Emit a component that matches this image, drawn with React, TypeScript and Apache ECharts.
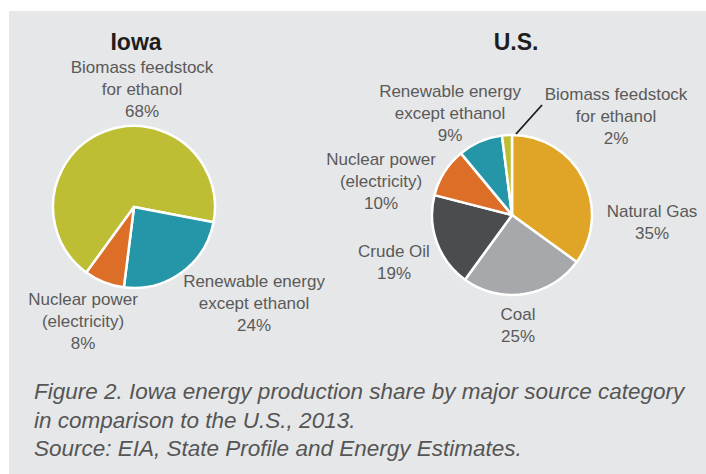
import React, { useEffect, useRef } from "react";
import * as echarts from "echarts";

const iowaNames = ["Biomass feedstock\nfor ethanol", "Renewable energy\nexcept ethanol", "Nuclear power\n(electricity)"];
const iowaValues = [68, 24, 8];
const iowaColors = ["#bdbe33", "#2596a8", "#dc6e27"];

const usNames = ["Natural Gas", "Coal", "Crude Oil", "Nuclear power\n(electricity)", "Renewable energy\nexcept ethanol", "Biomass feedstock\nfor ethanol"];
const usValues = [35, 25, 19, 10, 9, 2];
const usColors = ["#e0a526", "#a7a8ab", "#4b4c4e", "#dc6e27", "#2596a8", "#bdbe33"];

const titles = ["Iowa", "U.S."];
const captionLines = [
  "Figure 2. Iowa energy production share by major source category",
  "in comparison to the U.S., 2013.",
  "Source: EIA, State Profile and Energy Estimates.",
];

// label anchor positions (layout only)
const iowaLabelPos = [[142, 89], [254, 303], [83, 321]];
const usLabelPos = [[652, 222], [518, 325], [394, 262], [381, 181], [450, 113], [616, 116]];

const FONT = "'Liberation Sans', Arial, sans-serif";

export default function App() {
  const ref = useRef<HTMLDivElement>(null);
  useEffect(() => {
    if (!ref.current) return;
    const chart = echarts.init(ref.current, null, { renderer: "svg" });
    const labelStyle = {
      show: true,
      position: "outside",
      formatter: (p: any) => `${p.name}\n${p.value}%`,
      fontFamily: FONT,
      fontSize: 17,
      lineHeight: 22,
      color: "#5a5a5a",
      align: "center",
    };
    const mk = (names: string[], values: number[], colors: string[]) =>
      names.map((n, i) => ({
        name: n,
        value: values[i],
        itemStyle: { color: colors[i] },
      }));
    chart.setOption({
      animation: false,
      backgroundColor: "#ffffff",
      graphic: [
        { type: "rect", z: -10, shape: { x: 9, y: 11, width: 697, height: 463 }, style: { fill: "#e6e7e8" } },
        { type: "text", x: 136, y: 42, style: { text: titles[0], font: `bold 23px ${FONT}`, fill: "#1e1e1e", textAlign: "center", textVerticalAlign: "middle" } },
        { type: "text", x: 516, y: 42, style: { text: titles[1], font: `bold 23px ${FONT}`, fill: "#1e1e1e", textAlign: "center", textVerticalAlign: "middle" } },
        { type: "line", z: 10, shape: { x1: 516, y1: 134, x2: 542, y2: 105 }, style: { stroke: "#1a1a1a", lineWidth: 1.8 } },
        ...captionLines.map((t, i) => ({
          type: "text",
          x: 34,
          y: 403 + i * 28.5,
          style: { text: t, font: `italic 22.5px ${FONT}`, fill: "#555555", textAlign: "left", textVerticalAlign: "bottom" },
        })),
      ],
      series: [
        {
          type: "pie",
          center: [134, 207],
          radius: 81,
          startAngle: 234,
          clockwise: true,
          avoidLabelOverlap: false,
          itemStyle: { borderColor: "#ffffff", borderWidth: 2.5 },
          label: labelStyle,
          labelLine: { show: false },
          emphasis: { disabled: true },
          labelLayout: (p: any) => ({ x: iowaLabelPos[p.dataIndex][0], y: iowaLabelPos[p.dataIndex][1], align: "center", verticalAlign: "middle" }),
          data: mk(iowaNames, iowaValues, iowaColors),
        },
        {
          type: "pie",
          center: [512, 215],
          radius: 80,
          startAngle: 90,
          clockwise: true,
          avoidLabelOverlap: false,
          itemStyle: { borderColor: "#ffffff", borderWidth: 2.5 },
          label: labelStyle,
          labelLine: { show: false },
          emphasis: { disabled: true },
          labelLayout: (p: any) => ({ x: usLabelPos[p.dataIndex][0], y: usLabelPos[p.dataIndex][1], align: "center", verticalAlign: "middle" }),
          data: mk(usNames, usValues, usColors),
        },
      ],
    });
    return () => chart.dispose();
  }, []);
  return <div ref={ref} style={{ position: "absolute", left: 0, top: 0, width: 706, height: 474 }} />;
}
